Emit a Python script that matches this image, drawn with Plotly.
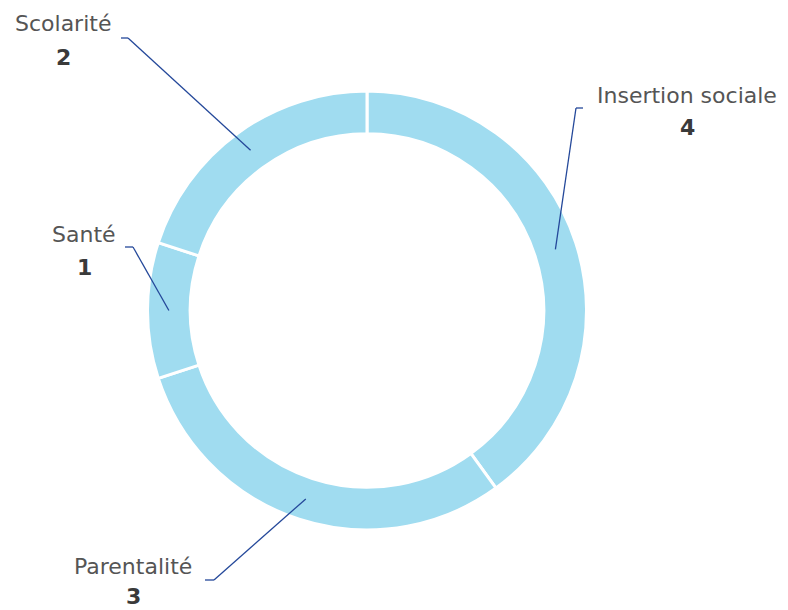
import math
import plotly.graph_objects as go

# data
labels = ["Insertion sociale", "Parentalité", "Santé", "Scolarité"]
values = [4, 3, 1, 2]

# label placement (pixels in the page) - text centre, value centre and elbow point of leader line
label_pos = {
    "Insertion sociale": (687, 95),
    "Parentalité": (133, 566),
    "Santé": (84, 235),
    "Scolarité": (63, 24),
}
value_dy = {"Insertion sociale": 33, "Parentalité": 30, "Santé": 33, "Scolarité": 33}
elbow = {
    "Insertion sociale": ((576, 108), (583, 108)),
    "Parentalité": ((214, 580), (205, 580)),
    "Santé": ((133, 247), (125, 247)),
    "Scolarité": ((128, 38), (121, 38)),
}

OFF = 8  # body margin of the html page
W, H = 788 - OFF, 610 - OFF
cx, cy, R = 367, 310.5, 219.5
hole = 0.805

def px(x, y):
    return (x - OFF) / W, 1 - (y - OFF) / H

d0 = px(cx - R, cy + R)
d1 = px(cx + R, cy - R)

fig = go.Figure(
    go.Pie(
        labels=labels,
        values=values,
        hole=hole,
        sort=False,
        direction="clockwise",
        rotation=0,
        textinfo="none",
        hoverinfo="label+value",
        marker=dict(colors=["#a0dcf0"] * 4, line=dict(color="white", width=3)),
        domain=dict(x=[d0[0], d1[0]], y=[d0[1], d1[1]]),
        showlegend=False,
    )
)

shapes = []
annotations = []
total = sum(values)
cum = 0
r_mid = R * (1 + hole) / 2
for lab, v in zip(labels, values):
    ang = (cum + v / 2) / total * 2 * math.pi
    cum += v
    ax = cx + r_mid * math.sin(ang)
    ay = cy - r_mid * math.cos(ang)
    (ex, ey), (hx, hy) = elbow[lab]
    for (x0, y0), (x1, y1) in [((ax, ay), (ex, ey)), ((ex, ey), (hx, hy))]:
        p0 = px(x0, y0)
        p1 = px(x1, y1)
        shapes.append(dict(type="line", xref="paper", yref="paper",
                           x0=p0[0], y0=p0[1], x1=p1[0], y1=p1[1],
                           line=dict(color="#24489a", width=1.3)))
    tx, ty = label_pos[lab]
    p = px(tx, ty)
    annotations.append(dict(x=p[0], y=p[1], xref="paper", yref="paper",
                            text=lab, showarrow=False, xanchor="center", yanchor="middle",
                            borderpad=0,
                            font=dict(family="DejaVu Sans", size=22, color="#555555")))
    p = px(tx, ty + value_dy[lab])
    annotations.append(dict(x=p[0], y=p[1], xref="paper", yref="paper",
                            text="<b>%d</b>" % v, showarrow=False, xanchor="center", yanchor="middle",
                            borderpad=0,
                            font=dict(family="DejaVu Sans", size=22, color="#3a3a3a")))

fig.update_layout(
    width=W,
    height=H,
    autosize=False,
    margin=dict(l=0, r=0, t=0, b=0),
    paper_bgcolor="white",
    plot_bgcolor="white",
    shapes=shapes,
    annotations=annotations,
)

fig.write_html("out.html")
